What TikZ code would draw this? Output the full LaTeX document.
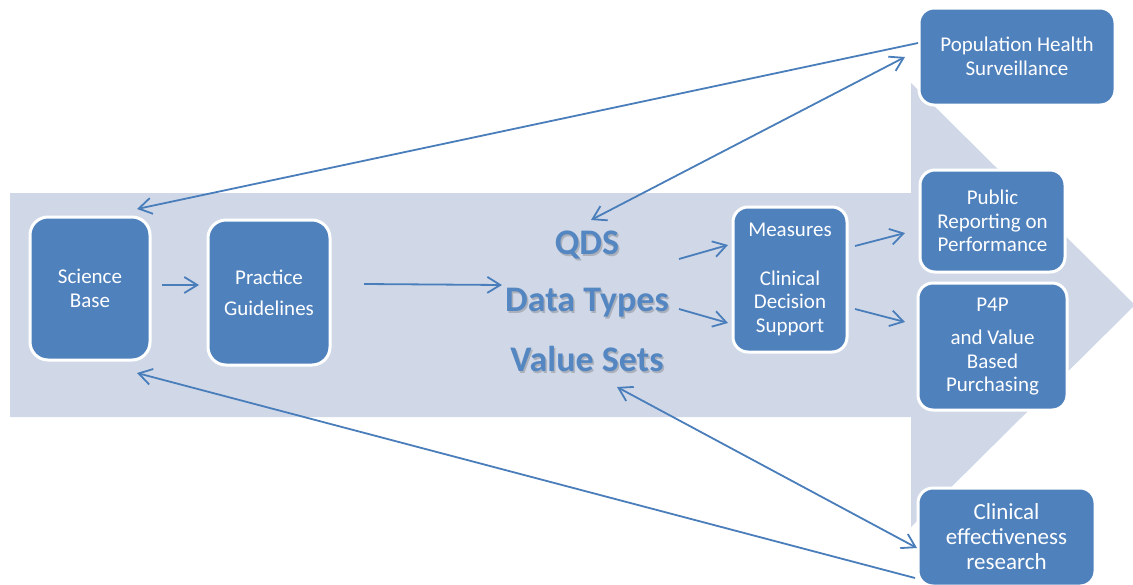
\documentclass[tikz,border=0pt]{standalone}
\usepackage{fontspec}
\setmainfont{Carlito}
\usetikzlibrary{arrows.meta}
\definecolor{bgarrow}{RGB}{208,216,232}
\definecolor{boxblue}{RGB}{79,129,189}
\definecolor{lineblue}{RGB}{74,126,187}
\definecolor{qdsblue}{RGB}{84,134,194}
\tikzset{
  box/.style={fill=boxblue, draw=white, line width=3pt, rounded corners=15pt,
    text=white, align=center, inner sep=0pt, font=\fontsize{21}{23.5}\selectfont},
  conn/.style={draw=lineblue, line width=1.8pt, -{Straight Barb[length=13pt,width=16pt]}},
  dconn/.style={draw=lineblue, line width=1.8pt, {Straight Barb[length=13pt,width=16pt]}-{Straight Barb[length=13pt,width=16pt]}},
  bigtext/.style={text=qdsblue, font=\fontsize{36}{40}\selectfont\bfseries},
  shadowtext/.style={text=black!60, opacity=0.35, font=\fontsize{36}{40}\selectfont\bfseries}
}
\begin{document}
\begin{tikzpicture}[x=1pt,y=-1pt]
\useasboundingbox (0,0) rectangle (1133,584);
\clip (0,0) rectangle (1133,584);
% background arrow
\fill[bgarrow] (10,193) -- (911,193) -- (911,83) -- (1135,305) -- (911,527) -- (911,417) -- (10,417) -- cycle;

% boxes
\node[box, minimum width=120pt, minimum height=143pt, rounded corners=18pt] (sb) at (90,288.5) {Science\\Base};
\node[box, minimum width=122pt, minimum height=145pt, rounded corners=18pt, font=\fontsize{21}{31}\selectfont] (pg) at (269,292.5) {Practice\\Guidelines};
\node[box, minimum width=114pt, minimum height=145pt] (mc) at (790,279.5) {Measures\\[25pt]Clinical\\Decision\\Support};
\node[box, minimum width=196pt, minimum height=97pt] (pop) at (1017,56.5) {Population Health\\Surveillance};
\node[box, minimum width=145pt, minimum height=102pt] (pub) at (992.5,221) {Public\\Reporting on\\Performance};
\node[box, minimum width=149pt, minimum height=127pt] (p4p) at (992.5,346.5) {P4P\\[10pt]and Value\\Based\\Purchasing};
\node[box, minimum width=177pt, minimum height=98pt, font=\fontsize{23}{25}\selectfont] (cer) at (1006.5,537) {Clinical\\effectiveness\\research};

% QDS text with shadow
\node[shadowtext] at (588.5,246.5) {QDS};
\node[shadowtext] at (588.5,304.5) {Data Types};
\node[shadowtext] at (588.5,360.5) {Value Sets};
\node[bigtext] (qds) at (587,245) {QDS};
\node[bigtext] (dt) at (587,303) {Data Types};
\node[bigtext] (vs) at (587,359) {Value Sets};

% connector end points
\coordinate (a1) at (162,285); \coordinate (a2) at (199,285);
\coordinate (b1) at (364,284); \coordinate (b2) at (502,285);
\coordinate (c1) at (679,259); \coordinate (c2) at (728,245);
\coordinate (d1) at (679,309); \coordinate (d2) at (728,323);
\coordinate (e1) at (855,246); \coordinate (e2) at (905,233);
\coordinate (f1) at (855,309); \coordinate (f2) at (905,322);
\coordinate (g1) at (918,43);  \coordinate (g2) at (137,209);
\coordinate (h1) at (905,57);  \coordinate (h2) at (591,220);
\coordinate (i1) at (915,578); \coordinate (i2) at (137,373);
\coordinate (j1) at (617,387); \coordinate (j2) at (917,548);

\draw[conn] (a1) -- (a2);
\draw[conn] (b1) -- (b2);
\draw[conn] (c1) -- (c2);
\draw[conn] (d1) -- (d2);
\draw[conn] (e1) -- (e2);
\draw[conn] (f1) -- (f2);
\draw[conn] (g1) -- (g2);
\draw[dconn] (h1) -- (h2);
\draw[conn] (i1) -- (i2);
\draw[dconn] (j1) -- (j2);
\end{tikzpicture}
\end{document}
